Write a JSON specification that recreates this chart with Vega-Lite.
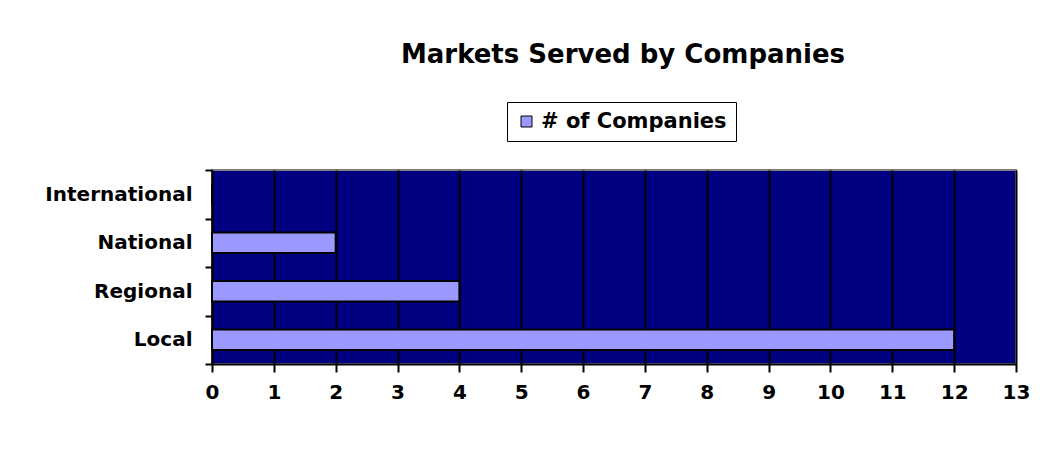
{
  "$schema": "https://vega.github.io/schema/vega-lite/v6.json",
  "width": 804,
  "height": 194,
  "autosize": {"type": "none"},
  "padding": {"left": 212, "top": 170, "right": 41, "bottom": 85},
  "background": "white",
  "title": {
    "text": "Markets Served by Companies",
    "font": "DejaVu Sans",
    "fontSize": 26,
    "fontWeight": "bold",
    "color": "black",
    "anchor": "middle",
    "frame": "group",
    "dx": 9,
    "offset": 34
  },
  "data": {
    "values": [
      {"market": "International", "series": "# of Companies", "count": 0},
      {"market": "National", "series": "# of Companies", "count": 2},
      {"market": "Regional", "series": "# of Companies", "count": 4},
      {"market": "Local", "series": "# of Companies", "count": 12}
    ]
  },
  "mark": {"type": "bar", "stroke": "black", "strokeWidth": 2, "height": {"band": 0.42}},
  "encoding": {
    "y": {
      "field": "market",
      "type": "nominal",
      "sort": ["International", "National", "Regional", "Local"],
      "scale": {"paddingInner": 0, "paddingOuter": 0},
      "axis": {
        "title": null,
        "domainColor": "black",
        "domainWidth": 2,
        "tickColor": "black",
        "tickWidth": 2,
        "tickSize": 7,
        "tickBand": "extent",
        "labelFont": "DejaVu Sans",
        "labelFontSize": 20,
        "labelFontWeight": "bold",
        "labelColor": "black",
        "labelPadding": 13,
        "grid": false
      }
    },
    "x": {
      "field": "count",
      "type": "quantitative",
      "scale": {"domain": [0, 13], "nice": false},
      "axis": {
        "title": null,
        "values": [0, 1, 2, 3, 4, 5, 6, 7, 8, 9, 10, 11, 12, 13],
        "domainColor": "black",
        "domainWidth": 2,
        "tickColor": "black",
        "tickWidth": 2,
        "tickSize": 8,
        "labelFont": "DejaVu Sans",
        "labelFontSize": 20,
        "labelFontWeight": "bold",
        "labelColor": "black",
        "labelPadding": 10,
        "labelFlush": false,
        "grid": true,
        "gridColor": "black",
        "gridWidth": 2,
        "gridOpacity": 1
      }
    },
    "color": {
      "field": "series",
      "type": "nominal",
      "scale": {"range": ["#9999FF"]},
      "legend": {
        "title": null,
        "orient": "none",
        "legendX": 295,
        "legendY": -68,
        "strokeColor": "black",
        "fillColor": "white",
        "padding": 9,
        "symbolType": "square",
        "symbolSize": 121,
        "symbolStrokeColor": "black",
        "symbolStrokeWidth": 1,
        "symbolOpacity": 1,
        "labelFont": "DejaVu Sans",
        "labelFontSize": 21,
        "labelFontWeight": "bold",
        "labelColor": "black",
        "labelOffset": 4,
        "labelLimit": 400
      }
    }
  },
  "config": {
    "view": {"fill": "#000080", "stroke": "#808080", "strokeWidth": 2}
  }
}
